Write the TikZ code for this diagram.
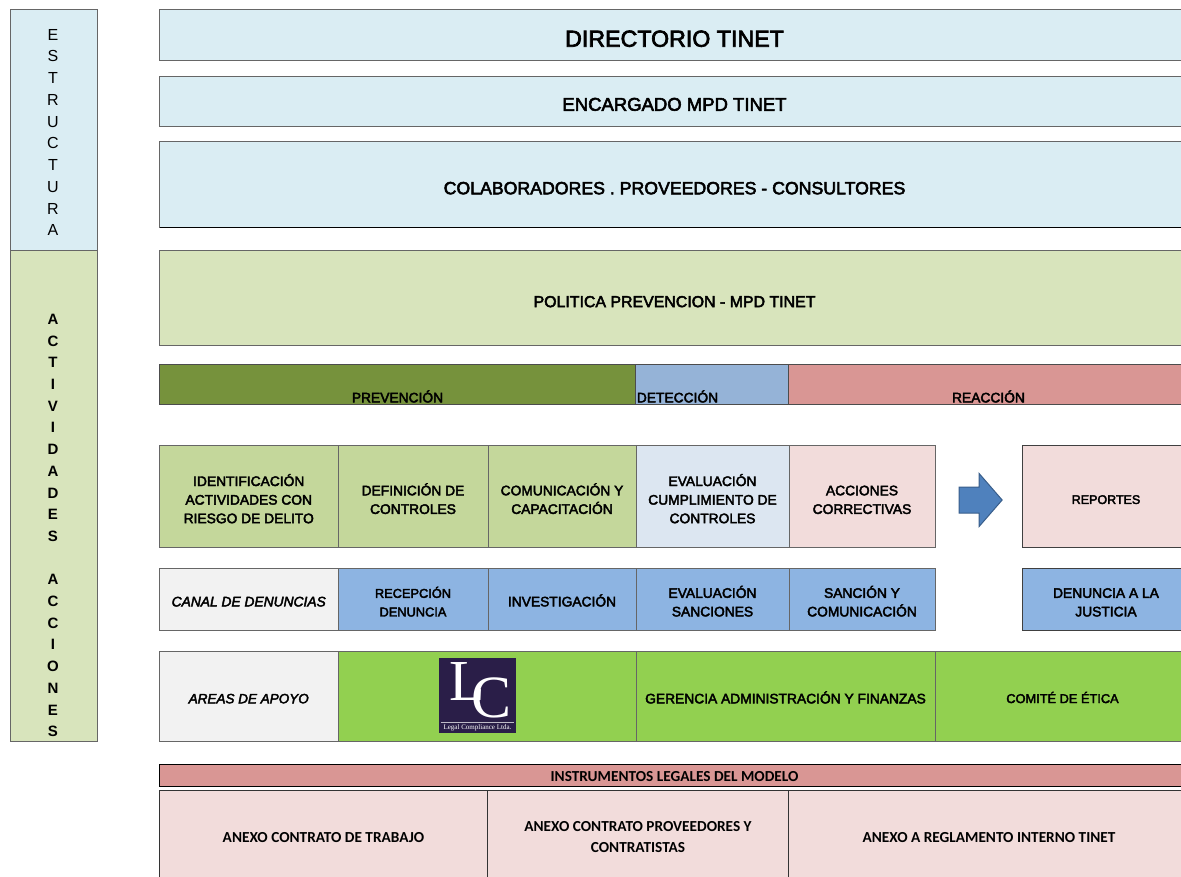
\documentclass[tikz,border=0pt]{standalone}
\usepackage{fontspec}
\setmainfont{Liberation Sans}
\newfontfamily\heavyfont[FakeBold=3]{Liberation Sans}
\newfontfamily\calibrifont{Carlito}
\newfontfamily\logofont{Liberation Serif}
\usetikzlibrary{positioning,shapes.arrows}
\definecolor{paleblue}{HTML}{DAEDF3}
\definecolor{palegreen}{HTML}{D8E4BC}
\definecolor{olive}{HTML}{76923C}
\definecolor{midblue}{HTML}{95B3D7}
\definecolor{rose}{HTML}{D99694}
\definecolor{cellgreen}{HTML}{C4D79B}
\definecolor{cellblue}{HTML}{DCE6F1}
\definecolor{cellrose}{HTML}{F2DCDB}
\definecolor{canalblue}{HTML}{8DB4E2}
\definecolor{brightgreen}{HTML}{92D050}
\definecolor{palegrey}{HTML}{F2F2F2}
\definecolor{logoink}{HTML}{2A1E48}
\definecolor{arrowblue}{HTML}{4F81BD}
\definecolor{arrowedge}{HTML}{385D8A}
\def\boxdrop{0}
\tikzset{
  drop/.code={\def\boxdrop{#1}},
  box/.style={draw=black!60,line width=1pt,inner sep=0pt,outer sep=0pt,align=center,
    font=\heavyfont\fontsize{13.8}{18.6}\selectfont,
    execute at begin node={\rule{0pt}{\dimexpr.72em+\boxdrop pt+\boxdrop pt\relax}}},
  toprow/.style={box,drop=3.5,fill=paleblue,minimum width=1030pt,anchor=north west},
  bandbox/.style={box,draw=black!70,minimum height=40pt},
  bandtext/.style={yshift=-12pt,font=\heavyfont\fontsize{13.8}{16}\selectfont},
  firstrow/.style={box,drop=12.5,minimum height=102pt},
  secondrow/.style={box,drop=12,minimum height=62pt},
  thirdrow/.style={box,drop=2,minimum height=90pt,fill=brightgreen},
  legalbox/.style={box,draw=black!80,drop=1.8,minimum height=90pt,fill=cellrose,font=\calibrifont\bfseries\fontsize{15.3}{20.5}\selectfont},
  sideletters/.style={inner sep=0pt,align=center},
}
\begin{document}
\begin{tikzpicture}[x=1pt,y=-1pt]
\clip (0.5,-0.5) rectangle (1181.5,876.5);
% left column
\node(estructura)  [box,fill=paleblue,anchor=north west,minimum width=87pt,minimum height=241pt] at (10.5,9) {};
\node(actividades) [box,fill=palegreen,minimum width=87pt,minimum height=491pt,below=0pt of estructura] {};
\node(estructuratxt)  [sideletters,font=\fontsize{16}{21.75}\selectfont] at (53.5,132)
  {E\\S\\T\\R\\U\\C\\T\\U\\R\\A};
\node(actividadestxt) [sideletters,font=\bfseries\fontsize{15}{21.7}\selectfont] at (53.5,525)
  {A\\C\\T\\I\\V\\I\\D\\A\\D\\E\\S\\[21.7pt]A\\C\\C\\I\\O\\N\\E\\S};

% structure rows
\node(directorio)    [toprow,minimum height=51pt,font=\heavyfont\fontsize{23.2}{28}\selectfont] at (160,9) {DIRECTORIO TINET};
\node(encargado)     [toprow,drop=2.7,minimum height=50pt,font=\heavyfont\fontsize{18.5}{20}\selectfont] at (160,76) {ENCARGADO MPD TINET};
\node(colaboradores) [toprow,minimum height=86pt,font=\heavyfont\fontsize{17.7}{20}\selectfont] at (160,141) {COLABORADORES . PROVEEDORES - CONSULTORES};
\node(politica)      [toprow,minimum height=95pt,fill=palegreen,font=\heavyfont\fontsize{15.9}{18}\selectfont] at (160,250) {POLITICA PREVENCION - MPD TINET};
\draw[black,line width=1pt] (colaboradores.south west) -- (colaboradores.south east);

% phases
\node(prevencion) [bandbox,fill=olive,anchor=north west,minimum width=476pt,label={[bandtext]center:PREVENCIÓN}] at (160,364) {};
\node(deteccion)  [bandbox,fill=midblue,minimum width=153pt,right=0pt of prevencion,label={[bandtext,xshift=-34.5pt]center:DETECCIÓN}] {};
\node(reaccion)   [bandbox,fill=rose,minimum width=400pt,right=0pt of deteccion,label={[bandtext]center:REACCIÓN}] {};

% activities
\node(identificacion) [firstrow,drop=21.8,fill=cellgreen,anchor=north west,minimum width=178.5pt] at (160,445) {IDENTIFICACIÓN\\ACTIVIDADES CON\\RIESGO DE DELITO};
\node(definicion)     [firstrow,fill=cellgreen,minimum width=150pt,right=0pt of identificacion] {DEFINICIÓN DE\\CONTROLES};
\node(comunicacion)   [firstrow,fill=cellgreen,minimum width=148pt,right=0pt of definicion] {COMUNICACIÓN Y\\CAPACITACIÓN};
\node(evaluacion)     [firstrow,drop=21.8,fill=cellblue,minimum width=153pt,right=0pt of comunicacion] {EVALUACIÓN\\CUMPLIMIENTO DE\\CONTROLES};
\node(acciones)       [firstrow,fill=cellrose,minimum width=146pt,right=0pt of evaluacion] {ACCIONES\\CORRECTIVAS};
\node(flecha)         [single arrow,draw=arrowedge,fill=arrowblue,line width=1pt,inner xsep=0pt,inner ysep=12.5pt,outer sep=0pt,minimum height=43pt,single arrow head extend=13.5pt,single arrow tip angle=98,single arrow head indent=0pt] at (975.5,499.5) {};
\node(reportes)       [firstrow,drop=3,draw=black!75,fill=cellrose,anchor=north west,minimum width=168pt,font=\heavyfont\fontsize{12.5}{18.6}\selectfont] at (1022.5,445) {REPORTES};

% complaints channel
\node(canal)         [secondrow,drop=2,fill=palegrey,anchor=north west,minimum width=178.5pt,font=\heavyfont\itshape\fontsize{13.8}{18.6}\selectfont] at (160,568) {CANAL DE DENUNCIAS};
\node(recepcion)     [secondrow,drop=12.4,fill=canalblue,minimum width=150pt,right=0pt of canal,font=\heavyfont\fontsize{12.8}{18.6}\selectfont] {RECEPCIÓN\\DENUNCIA};
\node(investigacion) [secondrow,drop=2,fill=canalblue,minimum width=148pt,right=0pt of recepcion] {INVESTIGACIÓN};
\node(sanciones)     [secondrow,fill=canalblue,minimum width=153pt,right=0pt of investigacion] {EVALUACIÓN\\SANCIONES};
\node(sancion)       [secondrow,fill=canalblue,minimum width=146pt,right=0pt of sanciones] {SANCIÓN Y\\COMUNICACIÓN};
\node(justicia)      [secondrow,draw=black!75,fill=canalblue,anchor=north west,minimum width=168pt] at (1022.5,568) {DENUNCIA A LA\\JUSTICIA};

% support areas
\node(apoyo)    [thirdrow,fill=palegrey,anchor=north west,minimum width=178.5pt,font=\heavyfont\itshape\fontsize{13.5}{18.6}\selectfont] at (160,651) {AREAS DE APOYO};
\node(legal)    [thirdrow,minimum width=298pt,right=0pt of apoyo] {};
\node(gerencia) [thirdrow,minimum width=299pt,right=0pt of legal] {GERENCIA ADMINISTRACIÓN Y FINANZAS};
\node(comite)   [thirdrow,minimum width=255pt,right=0pt of gerencia,font=\heavyfont\fontsize{12.8}{18.6}\selectfont] {COMITÉ DE ÉTICA};

% logo
\node(logo)  [fill=logoink,inner sep=0pt,outer sep=0pt,anchor=north west,minimum width=77pt,minimum height=75pt] at (439,657.5) {};
\node(logolc) [text=white,inner sep=0pt,anchor=base west,font=\logofont\fontsize{58}{58}\selectfont] at (449.3,700) {L\kern-12.7pt\raisebox{-17pt}{\fontsize{60}{60}\selectfont C}};
\coordinate(logoa) at (441,722);
\coordinate(logob) at (514,722);
\draw[white!70!logoink,line width=.6pt] (logoa) -- (logob);
\node(logotxt) [text=white,inner sep=0pt,font=\logofont\fontsize{7}{8}\selectfont] at (478,727.5) {Legal Compliance Ltda.};

% legal instruments
\node(instrumentos) [box,drop=0.8,draw=black,line width=1.3pt,fill=rose,anchor=north west,minimum width=1030pt,minimum height=22pt,font=\calibrifont\bfseries\fontsize{15.3}{16}\selectfont] at (160,764) {INSTRUMENTOS LEGALES DEL MODELO};
\node(trabajo)     [legalbox,anchor=north west,minimum width=328pt] at (160,790) {ANEXO CONTRATO DE TRABAJO};
\node(proveedores) [legalbox,drop=11.5,minimum width=301pt,right=0pt of trabajo] {ANEXO CONTRATO PROVEEDORES Y\\CONTRATISTAS};
\node(reglamento)  [legalbox,minimum width=401pt,right=0pt of proveedores] {ANEXO A REGLAMENTO INTERNO TINET};
\end{tikzpicture}
\end{document}
